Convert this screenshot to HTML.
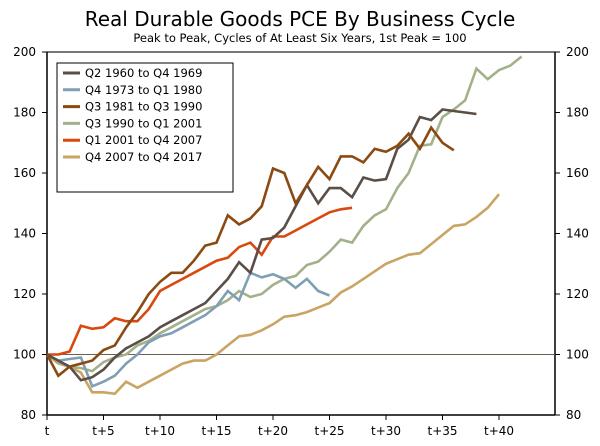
<!DOCTYPE html>
<html><head><meta charset="utf-8"><style>
body{margin:0;background:#fff;font-family:"DejaVu Sans","Liberation Sans",sans-serif}
svg text{font-family:"DejaVu Sans","Liberation Sans",sans-serif}
</style></head><body>
<svg id="c" width="600" height="442">
<text x="300" y="26" text-anchor="middle" font-size="20" fill="#000">Real Durable Goods PCE By Business Cycle</text>
<text x="300" y="42" text-anchor="middle" font-size="11.5" fill="#000">Peak to Peak, Cycles of At Least Six Years, 1st Peak = 100</text>
<g id="axes"></g><g id="series"></g><g id="legend"></g>
</svg>
<script>
const seriesNames=["Q2 1960 to Q4 1969","Q4 1973 to Q1 1980","Q3 1981 to Q3 1990","Q3 1990 to Q1 2001","Q1 2001 to Q4 2007","Q4 2007 to Q4 2017"];
const colors=["#5a4e47","#7f9fb4","#8b4a12","#a3b18b","#d9480f","#c9a462"];
const s1960=[100,98,96,91.5,92.5,95,99,102,104,106,109,111,113,115,117,121,125,130.5,127,138,138.5,142,149,156,150,155,155,152,158.5,157.5,158,168,171,178.5,177.5,181,180.5,180,179.5];
const s1973=[100,98,98.5,99,89.5,91,93,97,100,104,106,107,109,111,113,116,121,118,127,125.5,126.5,125,122,125,121,119.5];
const s1981=[100,93,96,97,98,101.5,103,109,114,120,124,127,127,131,136,137,146,143,145,149,161.5,160,150,156,162,158,165.5,165.5,163.5,168,167,169,173,168,175,170,167.5];
const s1990=[100,97.5,96,95.5,94.5,97.5,99,100,103,104.5,107,109,111,113,115,116,118,121,119,120,123,125,126,129.6,130.7,134,138,137,142.5,146,148,155,160,169,169.5,178.5,181,184,194.5,191,194,195.5,198.5];
const s2001=[100,100,101,109.5,108.5,109,112,111,111,115,121,123,125,127,129,131,132,135.5,137,133,139,139,141,143,145,147,148,148.5];
const s2007=[100,97,96,94,87.5,87.5,87,91,89,91,93,95,97,98,98,100,103,106,106.5,108,110,112.5,113,114,115.5,117,120.5,122.5,125,127.5,130,131.5,133,133.5,136.5,139.5,142.5,143,145.5,148.5,153];
const allSeries=[s1960,s1973,s1981,s1990,s2001,s2007];
const yTicks=[80,100,120,140,160,180,200];
const xTickLabels=["t","t+5","t+10","t+15","t+20","t+25","t+30","t+35","t+40"];
const NS="http://www.w3.org/2000/svg";
const X0=47,X1=555,Y0=415,Y1=52;
const xs=q=>X0+q*11.3;
const ys=v=>Y0-(v-80)*(Y0-Y1)/120;
function mk(t,a,p){const e=document.createElementNS(NS,t);for(const k in a)e.setAttribute(k,a[k]);p.appendChild(e);return e;}
const ax=document.getElementById('axes');
let e;
e=mk('line',{x1:X0,y1:Y1,x2:X1,y2:Y1,stroke:'#777','stroke-width':2},ax);


e=mk('line',{x1:X0,y1:Y1,x2:X0,y2:Y0,stroke:'#000','stroke-width':1.5},ax);


e=mk('line',{x1:X1,y1:Y1,x2:X1,y2:Y0,stroke:'#000','stroke-width':1.5},ax);


e=mk('line',{x1:X0,y1:Y0,x2:X1,y2:Y0,stroke:'#000','stroke-width':1.5},ax);


e=mk('line',{x1:X0,y1:ys(100),x2:X1,y2:ys(100),stroke:'#6b5f4f','stroke-width':1},ax);


yTicks.forEach(v=>{
 e=mk('line',{x1:X0-5,y1:ys(v),x2:X0,y2:ys(v),stroke:'#000'},ax);
 
 
 e=mk('line',{x1:X1,y1:ys(v),x2:X1+5,y2:ys(v),stroke:'#000'},ax);
 
 
 e=mk('text',{x:X0-11,y:ys(v)+4,'text-anchor':'end','font-size':12},ax);e.textContent=v;
 
 
 e=mk('text',{x:X1+11,y:ys(v)+4,'font-size':12},ax);e.textContent=v;
 
 
});
xTickLabels.forEach((l,i)=>{
 const x=xs(i*5);
 e=mk('line',{x1:x,y1:Y0,x2:x,y2:Y0+5,stroke:'#000'},ax);
 
 
 e=mk('text',{x:x,y:Y0+20,'text-anchor':'middle','font-size':12},ax);e.textContent=l;
 
 
});
const sg=document.getElementById('series');
const order=[5,3,1,4,0,2];
order.forEach(i=>{
 const d=allSeries[i].map((v,q)=>(q?'L':'M')+xs(q).toFixed(1)+','+ys(v).toFixed(1)).join('');
 e=mk('path',{d:d,fill:'none',stroke:colors[i],'stroke-width':2.6,'stroke-linejoin':'miter'},sg);
 
 
});
const lg=document.getElementById('legend');
e=mk('rect',{x:57,y:63,width:176,height:129,fill:'#fff',stroke:'#000','stroke-width':1},lg);


const legOrder=[0,1,2,3,4,5];
legOrder.forEach((i,k)=>{
 const y=73+k*16.8;
 e=mk('line',{x1:63,y1:y,x2:80,y2:y,stroke:colors[i],'stroke-width':3},lg);
 
 
 e=mk('text',{x:85,y:y+4,'font-size':11.5},lg);e.textContent=seriesNames[i];
 
 
});
</script>
</body></html>
